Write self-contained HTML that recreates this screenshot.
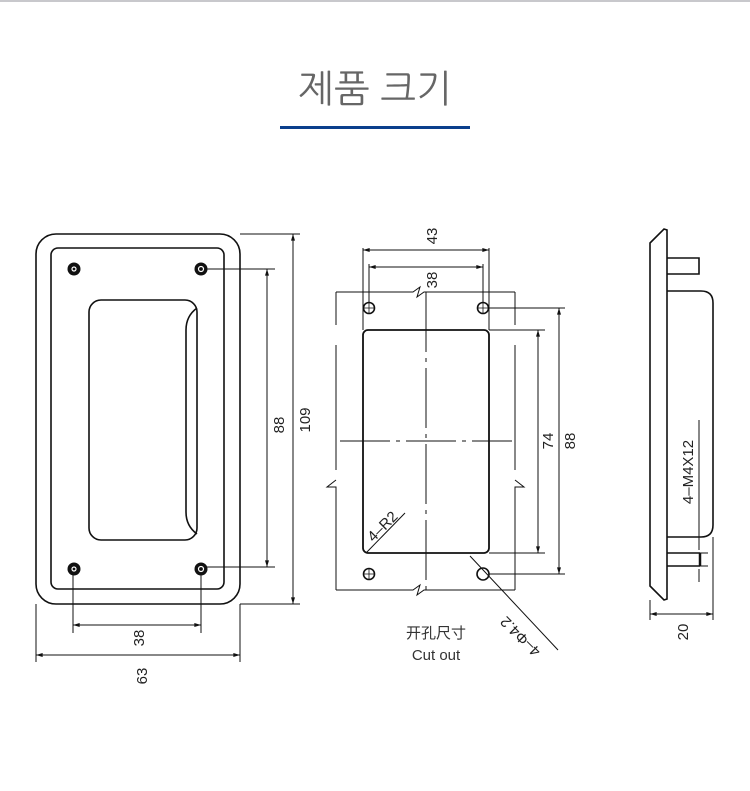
<!DOCTYPE html>
<html><head><meta charset="utf-8"><style>
html,body{margin:0;padding:0;background:#fff;width:750px;height:791px;overflow:hidden}
svg{display:block}
text{font-family:"Liberation Sans",sans-serif;fill:#222}
</style></head><body>
<svg width="750" height="791" viewBox="0 0 750 791" xmlns="http://www.w3.org/2000/svg">
<defs>
<marker id="a" viewBox="0 0 10 6" refX="10" refY="3" markerWidth="7" markerHeight="4" orient="auto-start-reverse"><path d="M0,0 L10,3 L0,6 z" fill="#111"/></marker>
</defs>
<rect x="0" y="0" width="750" height="2" fill="#c8c8cc"/>
<text x="375" y="102" text-anchor="middle" font-size="38" style="font-family:'Liberation Sans','NanumGothic','Noto Sans CJK KR',sans-serif;fill:#666;font-weight:300">제품 크기</text>
<rect x="280" y="126" width="190" height="3" fill="#0b3f8c"/>

<g fill="none" stroke="#111" stroke-width="1.6">
<!-- left view -->
<rect x="36" y="234" width="204" height="370" rx="20"/>
<rect x="51" y="248" width="173" height="341" rx="7"/>
<rect x="89" y="300" width="108" height="240" rx="12"/>
<path d="M197,308 Q186,316 186,330 L186,512 Q186,526 197,534"/>
</g>
<g fill="#111">
<circle cx="74" cy="269" r="6.5"/><circle cx="201" cy="269" r="6.5"/>
<circle cx="74" cy="569" r="6.5"/><circle cx="201" cy="569" r="6.5"/>
</g>
<g fill="none" stroke="#fff" stroke-width="1.2">
<circle cx="74" cy="269" r="2"/><circle cx="201" cy="269" r="2.5"/>
<circle cx="74" cy="569" r="2"/><circle cx="201" cy="569" r="2.5"/>
</g>
<g fill="none" stroke="#111" stroke-width="1">
<path d="M207,269 H275 M207,567 H275 M240,234 H300 M240,604 H300"/>
<line x1="267" y1="269" x2="267" y2="567" marker-start="url(#a)" marker-end="url(#a)"/>
<line x1="293" y1="234" x2="293" y2="604" marker-start="url(#a)" marker-end="url(#a)"/>
<path d="M73,575 V633 M201,575 V633 M36,604 V662 M240,604 V662"/>
<line x1="73" y1="625" x2="201" y2="625" marker-start="url(#a)" marker-end="url(#a)"/>
<line x1="36" y1="655" x2="240" y2="655" marker-start="url(#a)" marker-end="url(#a)"/>
</g>
<g font-size="15">
<text transform="translate(284,425) rotate(-90)" text-anchor="middle">88</text>
<text transform="translate(310,420) rotate(-90)" text-anchor="middle">109</text>
<text transform="translate(144,638) rotate(-90)" text-anchor="middle">38</text>
<text transform="translate(147,676) rotate(-90)" text-anchor="middle">63</text>
</g>

<!-- middle view -->
<g fill="none" stroke="#111" stroke-width="1">
<path d="M336,292 H413 L420,287 L417,297 L424,292 H515"/>
<path d="M336,590 H413 L420,585 L417,595 L424,590 H515"/>
<path d="M336,292 V325 M336,345 V470 M336,480 L327,487 L336,487 V590" />
<path d="M515,292 V325 M515,345 V470 M515,480 L524,487 L515,487 V590" />
<path d="M363,248 V330 M489,248 V330 M369,264 V302 M483,264 V302"/>
<line x1="363" y1="250" x2="489" y2="250" marker-start="url(#a)" marker-end="url(#a)"/>
<line x1="369" y1="267" x2="483" y2="267" marker-start="url(#a)" marker-end="url(#a)"/>
<path d="M426,292 V590" stroke-dasharray="60,6,4,6"/>
<path d="M340,441 H512" stroke-dasharray="50,6,4,6"/>
<path d="M489,308 H565 M489,330 H545 M489,553 H545 M489,574 H565"/>
<line x1="538" y1="330" x2="538" y2="553" marker-start="url(#a)" marker-end="url(#a)"/>
<line x1="559" y1="308" x2="559" y2="574" marker-start="url(#a)" marker-end="url(#a)"/>
<line x1="366" y1="553" x2="405" y2="513"/>
<line x1="470" y1="556" x2="558" y2="650"/>
</g>
<rect x="363" y="330" width="126" height="223" rx="5" fill="none" stroke="#111" stroke-width="1.8"/>
<g fill="none" stroke="#111" stroke-width="1.6">
<circle cx="369" cy="308" r="5.5"/><circle cx="483" cy="308" r="5.5"/>
<circle cx="369" cy="574" r="5.5"/><circle cx="483" cy="574" r="6"/>
</g>
<g stroke="#111" stroke-width="0.8">
<path d="M369,302 V314 M363,308 H375 M483,302 V314 M477,308 H489 M369,568 V580 M363,574 H375"/>
</g>
<g font-size="15">
<text transform="translate(437,236) rotate(-90)" text-anchor="middle">43</text>
<text transform="translate(437,280) rotate(-90)" text-anchor="middle">38</text>
<text transform="translate(553,441) rotate(-90)" text-anchor="middle">74</text>
<text transform="translate(575,441) rotate(-90)" text-anchor="middle">88</text>
<text transform="translate(386,530) rotate(-45)" text-anchor="middle">4–R2</text>
<text transform="translate(524,633) rotate(225)" text-anchor="middle">4–Φ4.2</text>
<text x="436" y="638" text-anchor="middle" style="font-family:'Liberation Sans','Noto Sans CJK SC',sans-serif;fill:#333">开孔尺寸</text>
<text x="436" y="660" text-anchor="middle" style="fill:#333">Cut out</text>
</g>

<!-- right view -->
<g fill="none" stroke="#111" stroke-width="1.6">
<path d="M650,243 L664,229 L667,230 L667,599 L664,600 L650,586 Z"/>
<path d="M667,258 H699 V274 H667"/>
<path d="M667,291 H701 Q713,291 713,303 V525 Q713,537 701,537 H667"/>
<path d="M667,553 H700 M667,566 H700"/>
<path d="M700,553 V566" stroke-width="2.5"/>
</g>
<g fill="none" stroke="#111" stroke-width="1">
<path d="M699,420 V550 M699,569 V582 M700,553 H708 M700,566 H708"/>
<path d="M650,600 V620 M713,537 V620"/>
<line x1="650" y1="614" x2="713" y2="614" marker-start="url(#a)" marker-end="url(#a)"/>
</g>
<g font-size="15">
<text transform="translate(693,472) rotate(-90)" text-anchor="middle">4–M4X12</text>
<text transform="translate(688,632) rotate(-90)" text-anchor="middle">20</text>
</g>
</svg>
</body></html>
